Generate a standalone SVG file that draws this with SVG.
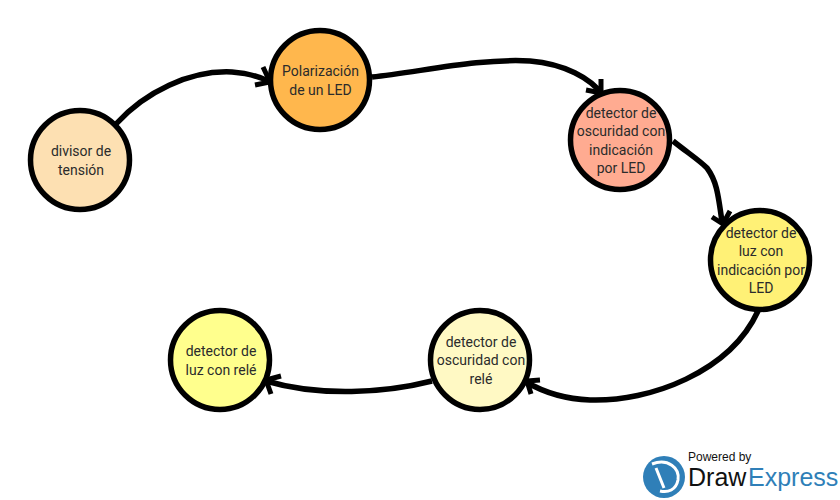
<svg xmlns="http://www.w3.org/2000/svg" width="840" height="500" viewBox="0 0 840 500">
<style>
.n{stroke:#000;stroke-width:5.5}
.l{font-family:Roboto,"Liberation Sans",sans-serif;font-size:14px;fill:#2b2b2b;text-anchor:middle}
.c{fill:none;stroke:#000;stroke-width:5.5}
.a{fill:none;stroke:#000;stroke-width:5}
.b{font-family:"Liberation Sans",Arial,sans-serif}
</style>
<rect width="840" height="500" fill="#fff"/>
<g id="connectors">
<path class="c" d="M116 124C145 92 190 70 232 72C245 73 258 76 268 81"/>
<path class="a" d="M263 67L270 82L255 85"/>
<path class="c" d="M372 77C420 72 480 58 530 61C565 64 590 78 603 95"/>
<path class="a" d="M601 79L601 93L586 90"/>
<path class="c" d="M673 141C688 153 699 160 707 168C716 180 718 192 722 222"/>
<path class="a" d="M712 217L723 224L730 211"/>
<path class="c" d="M758 311C730 372 650 402 590 400C565 399 545 393 526 382"/>
<path class="a" d="M531 394L527 381L540 380"/>
<path class="c" d="M432 381C385 393 320 397 266 381"/>
<path class="a" d="M271 394L266 380L281 376"/>
</g>
<g id="n1"><circle class="n" cx="80" cy="160" r="49.5" fill="#fde0b2"/><text class="l" x="81" y="156">divisor de</text><text class="l" x="81" y="174.500">tensión</text></g>
<g id="n2"><circle class="n" cx="320" cy="80" r="49.5" fill="#ffb74d"/><text class="l" x="320.500" y="76">Polarización</text><text class="l" x="320.500" y="94.500">de un LED</text></g>
<g id="n3"><circle class="n" cx="620" cy="140" r="49.5" fill="#ffab91"/><text class="l" x="621" y="117.500">detector de</text><text class="l" x="621" y="136">oscuridad con</text><text class="l" x="621" y="154.500">indicación</text><text class="l" x="621" y="173">por LED</text></g>
<g id="n4"><circle class="n" cx="760" cy="260" r="49.5" fill="#fff176"/><text class="l" x="761" y="237.500">detector de</text><text class="l" x="761" y="256">luz con</text><text class="l" x="761" y="274.500">indicación por</text><text class="l" x="761" y="293">LED</text></g>
<g id="n5"><circle class="n" cx="480" cy="360" r="49.5" fill="#fff9c4"/><text class="l" x="481" y="346.500">detector de</text><text class="l" x="481" y="365">oscuridad con</text><text class="l" x="481" y="383.500">relé</text></g>
<g id="n6"><circle class="n" cx="220" cy="360" r="49.5" fill="#ffff8d"/><text class="l" x="221" y="356">detector de</text><text class="l" x="221" y="374.500">luz con relé</text></g>
<g id="logo">
<circle cx="664" cy="477" r="21" fill="#2f7fb8"/>
<path d="M652 464C668 458 680 468 678 480C676 490 668 493 660 491M656 468L664 488" fill="none" stroke="#fff" stroke-width="3"/>
<text class="b" x="688" y="461" font-size="12" fill="#111">Powered by</text>
<text class="b" x="688" y="486" font-size="25" fill="#111">Draw</text>
<text class="b" x="748" y="486" font-size="25" fill="#2f7fb8">Express</text>
</g>
</svg>
